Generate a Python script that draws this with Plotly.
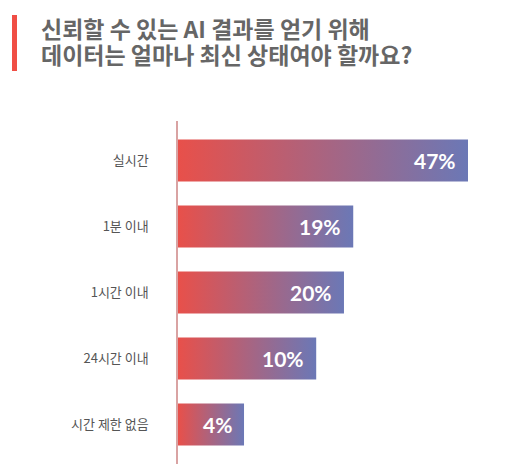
import plotly.graph_objects as go

# ---- data ----
categories = ["실시간", "1분 이내", "1시간 이내", "24시간 이내", "시간 제한 없음"]
percent_labels = ["47%", "19%", "20%", "10%", "4%"]
# drawn bar lengths (the infographic is not to scale), in %-units
bar_lengths = [47, 28.4, 26.9, 22.4, 10.7]

title_lines = ["신뢰할 수 있는 AI 결과를 얻기 위해", "데이터는 얼마나 최신 상태여야 할까요?"]

RED = "#E8504A"
PURPLE = "#6B78B6"
half = 0.318

# page has an 8px body margin; figure laid out so the plot area sits at x 178..478, y 121..464 on screen
OFF = 8
W, H = 507 - OFF, 476 - OFF
L_M, T_M = 178 - OFF, 121 - OFF
PW, PH = 300, 343


def px_x(x):
    return (x - OFF - L_M) / PW


def px_y(y):
    return (T_M + PH - (y - OFF)) / PH


fig = go.Figure()
for i, (cat, L) in enumerate(zip(categories, bar_lengths)):
    fig.add_trace(go.Scatter(
        x=[0, L, L, 0, 0],
        y=[i - half, i - half, i + half, i + half, i - half],
        mode="lines", line=dict(width=0),
        fill="toself",
        fillgradient=dict(type="horizontal", colorscale=[[0, RED], [1, PURPLE]], start=0, stop=L),
        hoverinfo="skip", showlegend=False, name=cat,
    ))

for i, (lab, L) in enumerate(zip(percent_labels, bar_lengths)):
    fig.add_annotation(x=L, y=i, text=f"<b>{lab}</b>", showarrow=False,
                       xanchor="right", yanchor="middle", xshift=-10,
                       font=dict(family="Lato, Open Sans, sans-serif", size=21, color="white"))

# title (two lines)
for line, yc in zip(title_lines, [28, 54]):
    fig.add_annotation(xref="paper", yref="paper", x=px_x(39), y=px_y(yc),
                       xanchor="left", yanchor="middle", align="left", showarrow=False,
                       text=f"<b>{line}</b>",
                       font=dict(family="Noto Sans CJK KR", size=23, color="#666666"))
fig.add_shape(type="rect", xref="paper", yref="paper",
              x0=px_x(12), x1=px_x(17), y0=px_y(71), y1=px_y(15),
              fillcolor="#F04E45", line=dict(width=0))

fig.update_layout(
    width=W, height=H,
    margin=dict(l=L_M, r=W - L_M - PW, t=T_M, b=H - T_M - PH),
    paper_bgcolor="white", plot_bgcolor="white",
    xaxis=dict(range=[0, 48.62], visible=False, fixedrange=True),
    yaxis=dict(range=[4.6, -0.6], tickmode="array", tickvals=list(range(len(categories))),
               ticktext=categories, showgrid=False, zeroline=False,
               showline=True, linecolor="#D9A3A3", linewidth=1.5,
               ticks="", ticklabelstandoff=25,
               tickfont=dict(family="Noto Sans CJK KR", size=13, color="#555555")),
)

fig.write_html("out.html")
